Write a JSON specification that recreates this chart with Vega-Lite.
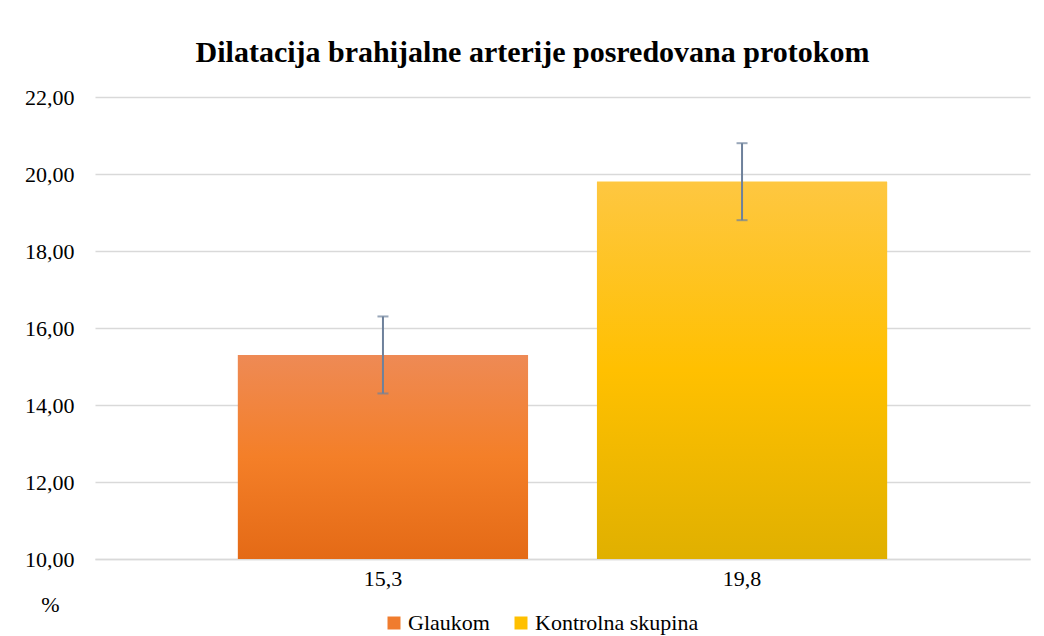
{
  "$schema": "https://vega.github.io/schema/vega-lite/v6.json",
  "autosize": "none",
  "width": 935,
  "height": 462,
  "padding": {"left": 95, "top": 97, "right": 14, "bottom": 77},
  "background": "white",
  "title": {
    "text": "Dilatacija brahijalne arterije posredovana protokom",
    "font": "Liberation Serif",
    "fontSize": 30,
    "fontWeight": "bold",
    "color": "#000000",
    "anchor": "middle",
    "dx": -30,
    "offset": 18
  },
  "data": {
    "values": [
      {"label": "15,3", "group": "Glaukom", "value": 15.3, "low": 14.3, "high": 16.3},
      {"label": "19,8", "group": "Kontrolna skupina", "value": 19.8, "low": 18.8, "high": 20.8}
    ]
  },
  "encoding": {
    "x": {
      "field": "label",
      "type": "nominal",
      "sort": null,
      "scale": {"domain": ["15,3", "19,8"], "paddingInner": 0.192, "paddingOuter": 0.398},
      "axis": {
        "title": null,
        "labelAngle": 0,
        "labelFont": "Liberation Serif",
        "labelFontSize": 22,
        "labelColor": "#000000",
        "ticks": false,
        "domain": true,
        "domainColor": "#D9D9D9",
        "domainWidth": 1.5,
        "labelPadding": 9
      }
    }
  },
  "layer": [
    {
      "mark": {"type": "bar"},
      "encoding": {
        "y": {
          "field": "value",
          "type": "quantitative",
          "scale": {"domain": [10, 22], "zero": false, "nice": false},
          "axis": {
            "values": [10, 12, 14, 16, 18, 20, 22],
            "labelExpr": "replace(format(datum.value, '.2f'), '.', ',')",
            "labelFont": "Liberation Serif",
            "labelFontSize": 22,
            "labelColor": "#000000",
            "labelPadding": 21,
            "ticks": false,
            "domain": false,
            "grid": true,
            "gridColor": "#D9D9D9",
            "gridWidth": 1.5,
            "title": "%",
            "titleAngle": 0,
            "titleFont": "Liberation Serif",
            "titleFontSize": 22,
            "titleFontWeight": "normal",
            "titleColor": "#000000",
            "titleAlign": "center",
            "titleBaseline": "middle",
            "titleX": -45,
            "titleY": 507
          }
        },
        "y2": {"datum": 10},
        "color": {
          "field": "group",
          "type": "nominal",
          "scale": {"domain": ["Glaukom", "Kontrolna skupina"], "range": ["#F07C2E", "#FFC000"]},
          "legend": {
            "title": null,
            "orient": "none",
            "direction": "horizontal",
            "legendX": 288,
            "legendY": 515,
            "padding": 0,
            "symbolType": "square",
            "symbolSize": 169,
            "symbolStrokeWidth": 0,
            "symbolOpacity": 1,
            "labelFont": "Liberation Serif",
            "labelFontSize": 22,
            "labelColor": "#000000",
            "labelLimit": 400,
            "labelOffset": 3,
            "columnPadding": 20
          }
        }
      }
    },
    {
      "transform": [{"filter": "datum.group === 'Glaukom'"}],
      "mark": {
        "type": "bar",
        "fill": {
          "gradient": "linear",
          "x1": 0, "y1": 0, "x2": 0, "y2": 1,
          "stops": [
            {"offset": 0, "color": "#EE8A55"},
            {"offset": 0.5, "color": "#F47F28"},
            {"offset": 1, "color": "#E46A16"}
          ]
        }
      },
      "encoding": {
        "y": {"field": "value", "type": "quantitative"},
        "y2": {"datum": 10}
      }
    },
    {
      "transform": [{"filter": "datum.group === 'Kontrolna skupina'"}],
      "mark": {
        "type": "bar",
        "fill": {
          "gradient": "linear",
          "x1": 0, "y1": 0, "x2": 0, "y2": 1,
          "stops": [
            {"offset": 0, "color": "#FEC741"},
            {"offset": 0.5, "color": "#FFC000"},
            {"offset": 1, "color": "#E0B000"}
          ]
        }
      },
      "encoding": {
        "y": {"field": "value", "type": "quantitative"},
        "y2": {"datum": 10}
      }
    },
    {
      "mark": {"type": "rule", "color": "#6E819B", "strokeWidth": 2},
      "encoding": {
        "y": {"field": "low", "type": "quantitative"},
        "y2": {"field": "high"}
      }
    },
    {
      "mark": {"type": "tick", "color": "#6E819B", "size": 11, "thickness": 2, "orient": "horizontal"},
      "encoding": {
        "y": {"field": "low", "type": "quantitative"}
      }
    },
    {
      "mark": {"type": "tick", "color": "#6E819B", "size": 11, "thickness": 2, "orient": "horizontal"},
      "encoding": {
        "y": {"field": "high", "type": "quantitative"}
      }
    }
  ],
  "config": {
    "font": "Liberation Serif",
    "view": {"stroke": null}
  }
}
